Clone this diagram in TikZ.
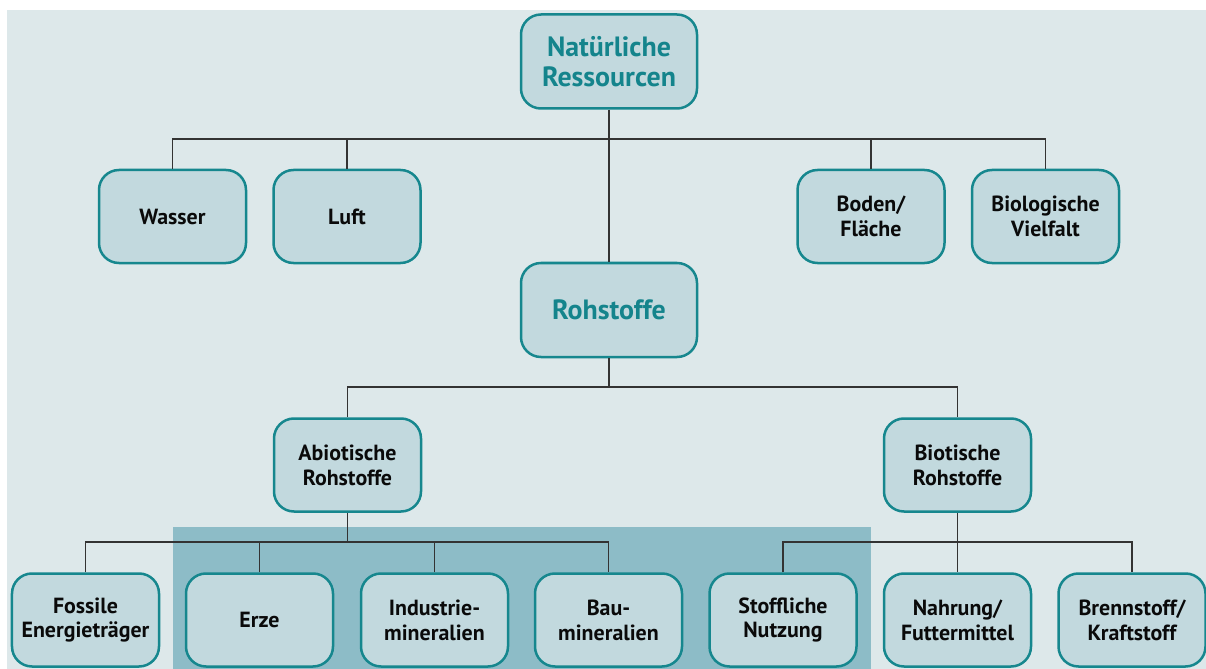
\documentclass[tikz,border=0pt]{standalone}
\usepackage{fontspec}
\setmainfont{PT Sans}
\definecolor{panel}{HTML}{DDE8EA}
\definecolor{band}{HTML}{8DBCC7}
\definecolor{boxfill}{HTML}{C2D9DE}
\definecolor{boxline}{HTML}{16878E}
\definecolor{headtext}{HTML}{14848C}
\definecolor{bodytext}{HTML}{0A0A0A}
\definecolor{wire}{HTML}{333333}
\tikzset{
  box/.style={draw=boxline, fill=boxfill, line width=2.5bp, rounded corners=20bp,
    minimum width=147bp, minimum height=93bp, inner sep=0pt, align=center,
    text=bodytext, font=\bfseries\fontsize{22}{25}\selectfont},
  headbox/.style={box, minimum width=176bp, minimum height=94bp,
    text=headtext, font=\bfseries\fontsize{28}{30}\selectfont},
  conn/.style={draw=wire, line width=1.8bp}
}
\begin{document}
\begin{tikzpicture}[x=1bp,y=-1bp]
\useasboundingbox (0,0) rectangle (1206,669);
% backdrop and highlighted band behind the abiotic group
\fill[panel] (7,10) rectangle (1206,669);
\fill[band] (173,527) rectangle (871,669);

% top level
\node[headbox] (nat) at (609,61.5) {Natürliche\\Ressourcen};
\node[box] (wasser) at (172.5,216.5) {Wasser};
\node[box] (luft) at (347,216.5) {Luft};
\node[box] (boden) at (871,216.5) {Boden/\\Fläche};
\node[box] (vielfalt) at (1045.5,216.5) {Biologische\\Vielfalt};
\node[headbox] (roh) at (609,310) {Rohstoffe};

% raw material branches
\node[box] (abio) at (347.5,465) {Abiotische\\Rohstoffe};
\node[box] (bio) at (957.5,465) {Biotische\\Rohstoffe};

% leaves
\node[box] (foss) at (85.5,620) {Fossile\\Energieträger};
\node[box] (erze) at (259.5,620) {Erze};
\node[box] (indu) at (434.5,620) {Industrie-\\mineralien};
\node[box] (bau) at (608.5,620) {Bau-\\mineralien};
\node[box] (stoff) at (783,620) {Stoffliche\\Nutzung};
\node[box] (nahr) at (957.5,620) {Nahrung/\\Futtermittel};
\node[box] (brenn) at (1132,620) {Brennstoff/\\Kraftstoff};

% junction levels
\coordinate (j1) at (609,139);
\coordinate (j2) at (609,387);
\coordinate (j3) at (0,542);

% connectors, level 1
\draw[conn] (nat.south) -- (roh.north);
\draw[conn] (wasser.north) -- (wasser.north |- j1) -- (vielfalt.north |- j1) -- (vielfalt.north);
\draw[conn] (luft.north) -- (luft.north |- j1);
\draw[conn] (boden.north) -- (boden.north |- j1);

% connectors, level 2
\draw[conn] (roh.south) -- (j2);
\draw[conn] (abio.north) |- (j2) -| (bio.north);

% connectors, level 3
\draw[conn] (abio.south) -- (abio.south |- j3);
\draw[conn] (foss.north) -- (foss.north |- j3) -- (bau.north |- j3) -- (bau.north);
\draw[conn] (erze.north) -- (erze.north |- j3);
\draw[conn] (indu.north) -- (indu.north |- j3);
\draw[conn] (bio.south) -- (nahr.north);
\draw[conn] (stoff.north) -- (stoff.north |- j3) -- (brenn.north |- j3) -- (brenn.north);
\end{tikzpicture}
\end{document}
